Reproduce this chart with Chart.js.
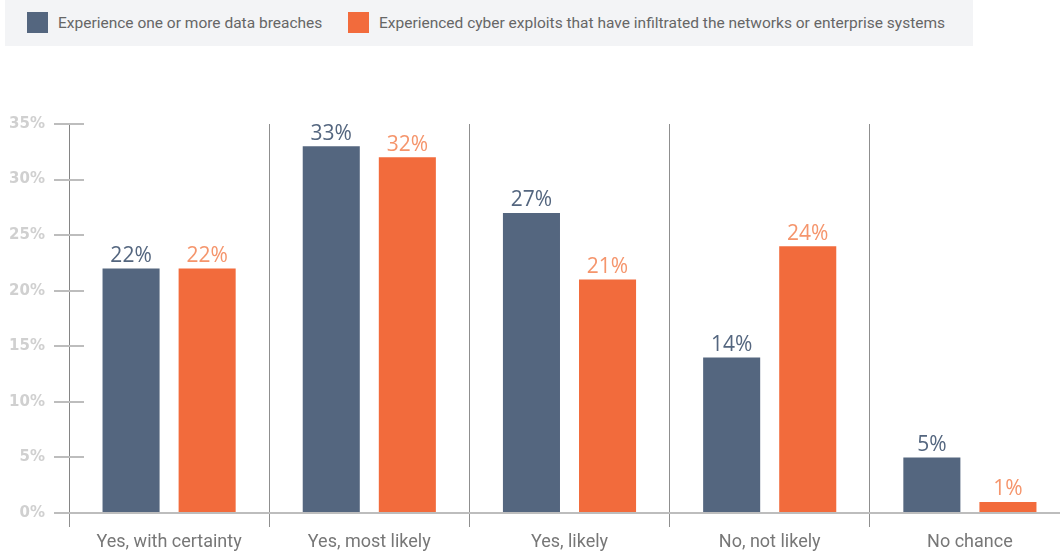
<!DOCTYPE html>
<html>
<head>
<meta charset="utf-8">
<script src="https://cdn.jsdelivr.net/npm/chart.js@4.4.1/dist/chart.umd.min.js"></script>
<style>
  body { margin: 0; background: #fff; overflow: hidden; width: 1060px; height: 554px; }
  #wrap { position: absolute; left: 0; top: 0; width: 1070px; height: 554px; }
  #legend {
    position: absolute; left: 5px; top: 0; width: 968px; height: 46px;
    background: #f3f4f6; font-family: Roboto, sans-serif; font-size: 15.5px; color: #666;
  }
  .item { position: absolute; top: 0; height: 46px; display: flex; align-items: center; }
  .swatch { width: 21px; height: 21px; margin-right: 10px; margin-top: -1px; }
</style>
</head>
<body>
<div id="wrap">
  <canvas id="riskChart" width="1070" height="554"></canvas>
</div>
<div id="legend"></div>
<script>
// Survey answers and share of respondents per answer (%)
const answers = ["Yes, with certainty", "Yes, most likely", "Yes, likely", "No, not likely", "No chance"];
const breaches = [22, 33, 27, 14, 5];
const exploits = [22, 32, 21, 24, 1];
const yTicks = [0, 5, 10, 15, 20, 25, 30, 35];

const seriesNames = [
  "Experience one or more data breaches",
  "Experienced cyber exploits that have infiltrated the networks or enterprise systems"
];
const barColors = ["#54667f", "#f26b3c"];
const valueColors = ["#54667f", "#f5956c"];

// legend strip above the chart
const legendEl = document.getElementById("legend");
const legendX = [22, 343];
seriesNames.forEach((name, i) => {
  const item = document.createElement("div");
  item.className = "item";
  item.style.left = legendX[i] + "px";
  item.innerHTML = '<span class="swatch" style="background:' + barColors[i] + '"></span><span>' + name + "</span>";
  legendEl.appendChild(item);
});

// percentage above each bar
const valueLabels = {
  id: "valueLabels",
  afterDatasetsDraw(chart) {
    const ctx = chart.ctx;
    ctx.save();
    ctx.font = "21px 'Open Sans', sans-serif";
    ctx.textAlign = "center";
    ctx.textBaseline = "bottom";
    chart.data.datasets.forEach((ds, di) => {
      const meta = chart.getDatasetMeta(di);
      ctx.fillStyle = valueColors[di];
      meta.data.forEach((bar, i) => {
        ctx.fillText(ds.data[i] + "%", bar.x, bar.y - 2);
      });
    });
    ctx.restore();
  }
};

// short tick marks on the inner side of the y axis
const innerTicks = {
  id: "innerTicks",
  afterDraw(chart) {
    const y = chart.scales.y;
    const ctx = chart.ctx;
    ctx.save();
    ctx.strokeStyle = "#bdbdbd";
    ctx.lineWidth = 2;
    y.ticks.forEach(t => {
      const py = Math.round(y.getPixelForValue(t.value));
      ctx.beginPath();
      ctx.moveTo(y.right, py);
      ctx.lineTo(y.right + 15, py);
      ctx.stroke();
    });
    ctx.restore();
  }
};

new Chart(document.getElementById("riskChart").getContext("2d"), {
  type: "bar",
  data: {
    labels: answers,
    datasets: [
      { label: seriesNames[0], data: breaches, backgroundColor: barColors[0] },
      { label: seriesNames[1], data: exploits, backgroundColor: barColors[1] }
    ]
  },
  options: {
    responsive: false,
    animation: false,
    layout: { padding: { top: 124, left: 0, right: 0, bottom: 0 } },
    datasets: { bar: { categoryPercentage: 0.76, barPercentage: 0.75 } },
    plugins: {
      legend: { display: false },
      tooltip: { enabled: false }
    },
    scales: {
      x: {
        afterFit(scale) { scale.height = 41; },
        grid: { color: "#8f8f8f", lineWidth: 1, tickLength: 14, offset: true },
        border: { color: "#bdbdbd", width: 2 },
        ticks: {
          color: "#777",
          font: { family: "Roboto, sans-serif", size: 18 },
          padding: 5,
          maxRotation: 0
        }
      },
      y: {
        min: 0,
        max: 35,
        afterFit(scale) { scale.width = 69; },
        afterBuildTicks(scale) { scale.ticks = yTicks.map(v => ({ value: v })); },
        grid: { drawOnChartArea: false, color: "#bdbdbd", lineWidth: 2, tickLength: 15 },
        border: { color: "#858585", width: 1 },
        ticks: {
          color: "#d0d0d0",
          font: { family: "'DejaVu Sans', sans-serif", size: 15, weight: "bold" },
          padding: 9,
          callback: v => v + "%"
        }
      }
    }
  },
  plugins: [valueLabels, innerTicks]
});
</script>
</body>
</html>
